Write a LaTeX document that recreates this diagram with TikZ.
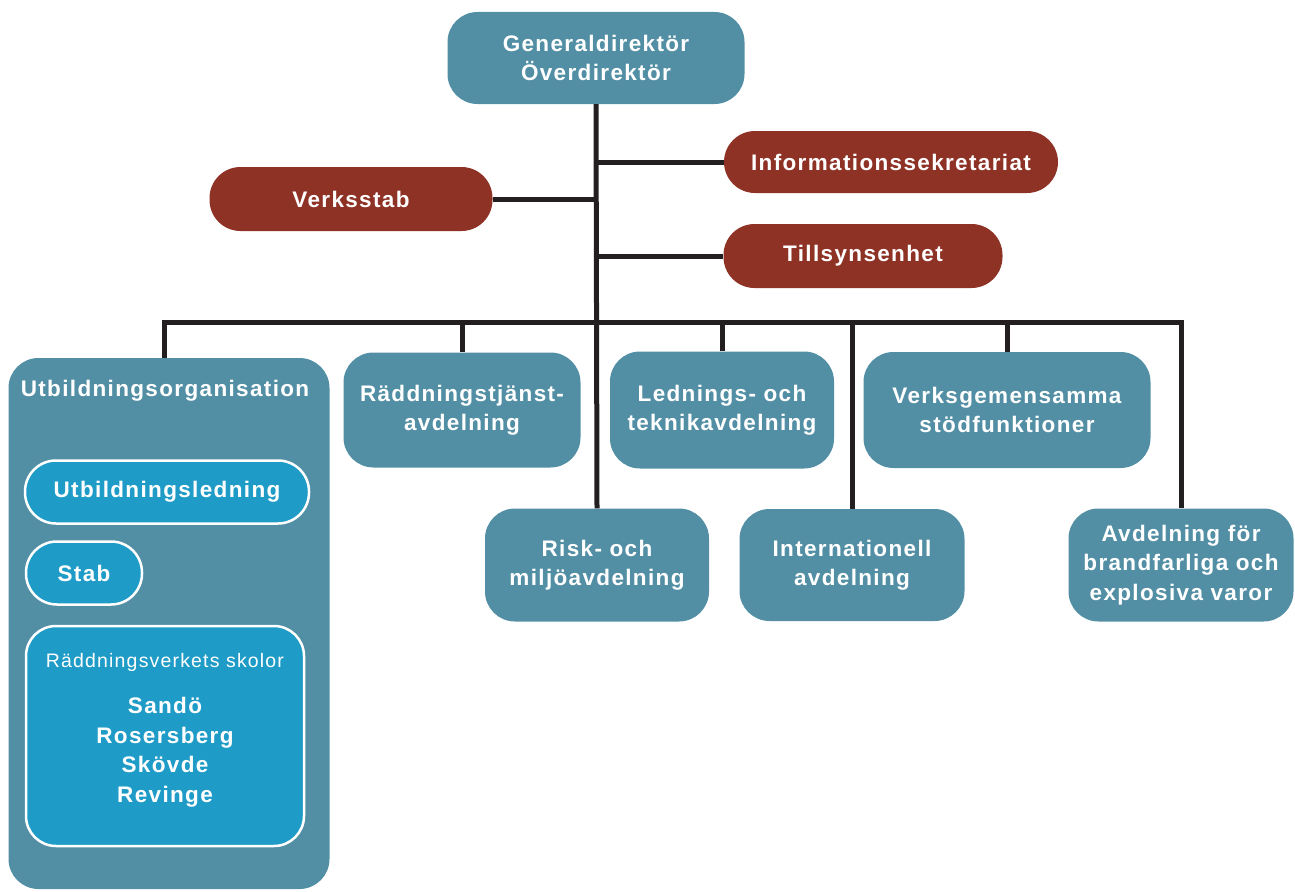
\documentclass[tikz,border=0pt]{standalone}
\usepackage{fontspec}
\setmainfont{Liberation Sans}[LetterSpace=6]
\definecolor{tealbox}{HTML}{528FA5}
\definecolor{redbox}{HTML}{8E3226}
\definecolor{bluebox}{HTML}{1E9BC6}
\definecolor{linecol}{HTML}{231F20}
\begin{document}
\begin{tikzpicture}[x=1pt,y=-1pt,
    every node/.style={font=\bfseries\fontsize{22.5}{29.5}\selectfont, text=white, align=center, inner sep=0pt},
    dept/.style={fill=tealbox, rounded corners=30pt},
    unit/.style={fill=redbox, rounded corners=31pt, minimum height=62},
    sub/.style={fill=bluebox, draw=white, line width=2.5pt},
    conn/.style={draw=linecol, line width=5pt}]
  \useasboundingbox (0,0) rectangle (1295,891);

  \coordinate (bar) at (597,322);

  \node[dept, minimum width=297, minimum height=92] (gd) at (596,58) {Generaldirektör\\Överdirektör};

  \node[unit, minimum width=334] (info) at (891,162) {Informationssekretariat};
  \node[unit, minimum width=283, minimum height=64] (verk) at (351,199) {Verksstab};
  \node[unit, minimum width=279, minimum height=64] (tills) at (863,256) {Tillsynsenhet};

  % utbildning
  \node[dept, minimum width=321, minimum height=531] (utb) at (169,623.5) {};
  \node (utbtitle) at (165,391) {Utbildningsorganisation};
  \node[sub, rounded corners=31pt, minimum width=284, minimum height=63] (led) at (167,492) {Utbildningsledning};
  \node[sub, rounded corners=31pt, minimum width=116, minimum height=63] (stab) at (84,573) {Stab};
  \node[sub, rounded corners=30pt, minimum width=278, minimum height=220] (skol) at (165,736) {};
  \node[font=\fontsize{19.5}{24}\selectfont] (skoltitle) at (165,662) {Räddningsverkets skolor};
  \node (orter) at (165,752) {Sandö\\Rosersberg\\Skövde\\Revinge};

  \node[dept, minimum width=237, minimum height=115] (radd) at (462,410) {Räddningstjänst-\\avdelning};
  \node[dept, minimum width=224, minimum height=117] (ledn) at (722,410) {Lednings- och\\teknikavdelning};
  \node[dept, minimum width=287, minimum height=116] (vgem) at (1007,410) {Verksgemensamma\\stödfunktioner};
  \node[dept, minimum width=224, minimum height=113] (risk) at (597,565) {Risk- och\\miljöavdelning};
  \node[dept, minimum width=225, minimum height=112] (intl) at (852,565) {Internationell\\avdelning};
  \node[dept, minimum width=225, minimum height=113] (avd) at (1181,565) {Avdelning för\\brandfarliga och\\explosiva varor};

  \draw[conn] (gd.south) -- (risk.north);
  \draw[conn] (gd.south |- info.west) -- (info.west);
  \draw[conn] (gd.south |- verk.east) -- (verk.east);
  \draw[conn] (gd.south |- tills.west) -- (tills.west);
  \draw[conn] ([xshift=-5pt]utb.north) |- (bar) -| (avd.north);
  \foreach \n in {radd,ledn,vgem,intl}
    \draw[conn] (\n.north) -- (\n.north |- bar);
\end{tikzpicture}
\end{document}
